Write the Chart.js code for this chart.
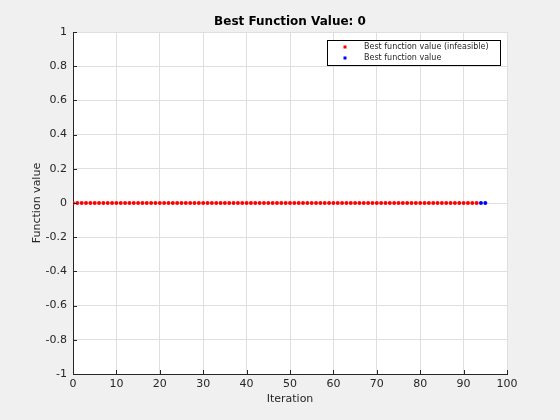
<!DOCTYPE html>
<html>
<head>
<meta charset="utf-8">
<script src="https://cdn.jsdelivr.net/npm/chart.js@4/dist/chart.umd.min.js"></script>
<style>
html,body{margin:0;padding:0;background:#f0f0f0;}
#wrap{width:560px;height:420px;}
</style>
</head>
<body>
<div id="wrap"><canvas id="c" width="560" height="420"></canvas></div>
<script>
const titleText = 'Best Function Value: 0';
const xTitle = 'Iteration';
const yTitle = 'Function value';
const labelInfeasible = 'Best function value (infeasible)';
const labelFeasible = 'Best function value';

const infeasibleIter = [0,1,2,3,4,5,6,7,8,9,10,11,12,13,14,15,16,17,18,19,20,21,22,23,24,25,26,27,28,29,30,31,32,33,34,35,36,37,38,39,40,41,42,43,44,45,46,47,48,49,50,51,52,53,54,55,56,57,58,59,60,61,62,63,64,65,66,67,68,69,70,71,72,73,74,75,76,77,78,79,80,81,82,83,84,85,86,87,88,89,90,91,92,93];
const infeasibleValue = [0,0,0,0,0,0,0,0,0,0,0,0,0,0,0,0,0,0,0,0,0,0,0,0,0,0,0,0,0,0,0,0,0,0,0,0,0,0,0,0,0,0,0,0,0,0,0,0,0,0,0,0,0,0,0,0,0,0,0,0,0,0,0,0,0,0,0,0,0,0,0,0,0,0,0,0,0,0,0,0,0,0,0,0,0,0,0,0,0,0,0,0,0,0];
const feasibleIter = [94,95];
const feasibleValue = [0,0];

const xTicks = [0,10,20,30,40,50,60,70,80,90,100];
const yTicks = [-1,-0.8,-0.6,-0.4,-0.2,0,0.2,0.4,0.6,0.8,1];

const redData = infeasibleIter.map((x,i)=>({x:x,y:infeasibleValue[i]}));
const blueData = feasibleIter.map((x,i)=>({x:x,y:feasibleValue[i]}));

const textColor = '#262626';
const gridColor = '#dfdfdf';

const bgPlugin = {
  id:'bg',
  beforeDraw(chart){
    const {ctx, chartArea:a} = chart;
    ctx.save();
    ctx.fillStyle = '#ffffff';
    ctx.fillRect(a.left, a.top, a.right-a.left, a.bottom-a.top);
    ctx.restore();
  },
  afterDraw(chart){
    const {ctx, chartArea:a, scales} = chart;
    ctx.save();
    ctx.strokeStyle = textColor;
    ctx.lineWidth = 1;
    ctx.beginPath();
    xTicks.forEach(v=>{
      const px = Math.round(scales.x.getPixelForValue(v)) + 0.5;
      ctx.moveTo(px, a.bottom); ctx.lineTo(px, a.bottom-4);
    });
    yTicks.forEach(v=>{
      const py = Math.round(scales.y.getPixelForValue(v)) + 0.5;
      ctx.moveTo(a.left, py); ctx.lineTo(a.left+4, py);
    });
    ctx.stroke();
    // legend
    const lx = 327.5, ly = 40.5, lw = 173, lh = 25;
    ctx.fillStyle = '#ffffff';
    ctx.fillRect(lx, ly, lw, lh);
    ctx.strokeStyle = '#000000';
    ctx.strokeRect(lx, ly, lw, lh);
    const ds = chart.data.datasets;
    ds.forEach((d,i)=>{
      const cy = ly + 6.5 + i*11;
      ctx.fillStyle = d.backgroundColor;
      ctx.fillRect(lx + 16, cy - 1.5, 3, 3);
      ctx.fillStyle = textColor;
      ctx.font = '8px "DejaVu Sans", sans-serif';
      ctx.textBaseline = 'middle';
      ctx.textAlign = 'left';
      ctx.fillText(d.label, lx + 36.5, cy);
    });
    ctx.restore();
  }
};

new Chart(document.getElementById('c'), {
  type:'scatter',
  data:{
    datasets:[
      {label:labelInfeasible, data:redData, backgroundColor:'#ff0000', borderColor:'#ff0000', pointRadius:2, pointBorderWidth:0, pointStyle:'circle'},
      {label:labelFeasible, data:blueData, backgroundColor:'#0000ff', borderColor:'#0000ff', pointRadius:2, pointBorderWidth:0, pointStyle:'circle'}
    ]
  },
  options:{
    responsive:false,
    animation:false,
    devicePixelRatio:1,
    layout:{padding:{left:0,right:53,top:0,bottom:0}},
    plugins:{
      legend:{display:false},
      tooltip:{enabled:false},
      title:{display:true, text:titleText, fullSize:false, color:'#000000',
        font:{family:'"DejaVu Sans", sans-serif', size:12, weight:'bold'},
        padding:{top:15, bottom:2.6}}
    },
    scales:{
      x:{
        type:'linear', min:0, max:100,
        afterBuildTicks(s){ s.ticks = xTicks.map(v=>({value:v})); },
        afterFit(s){ s.height = 46; },
        ticks:{color:textColor, padding:4, maxRotation:0, autoSkip:false,
          font:{family:'"DejaVu Sans", sans-serif', size:11},
          callback:(v)=>String(v)},
        grid:{color:gridColor, drawTicks:false},
        border:{color:textColor, width:1},
        title:{display:true, text:xTitle, color:textColor,
          font:{family:'"DejaVu Sans", sans-serif', size:11},
          padding:{top:0,bottom:14}}
      },
      y:{
        type:'linear', min:-1, max:1,
        afterBuildTicks(s){ s.ticks = yTicks.map(v=>({value:v})); },
        afterFit(s){ s.width = 73; },
        ticks:{color:textColor, padding:6, autoSkip:false,
          font:{family:'"DejaVu Sans", sans-serif', size:11},
          callback:(v)=>String(Math.round(v*10)/10)},
        grid:{color:gridColor, drawTicks:false},
        border:{color:textColor, width:1},
        title:{display:true, text:yTitle, color:textColor,
          font:{family:'"DejaVu Sans", sans-serif', size:11},
          padding:{top:31,bottom:0}}
      }
    }
  },
  plugins:[bgPlugin]
});
</script>
</body>
</html>
